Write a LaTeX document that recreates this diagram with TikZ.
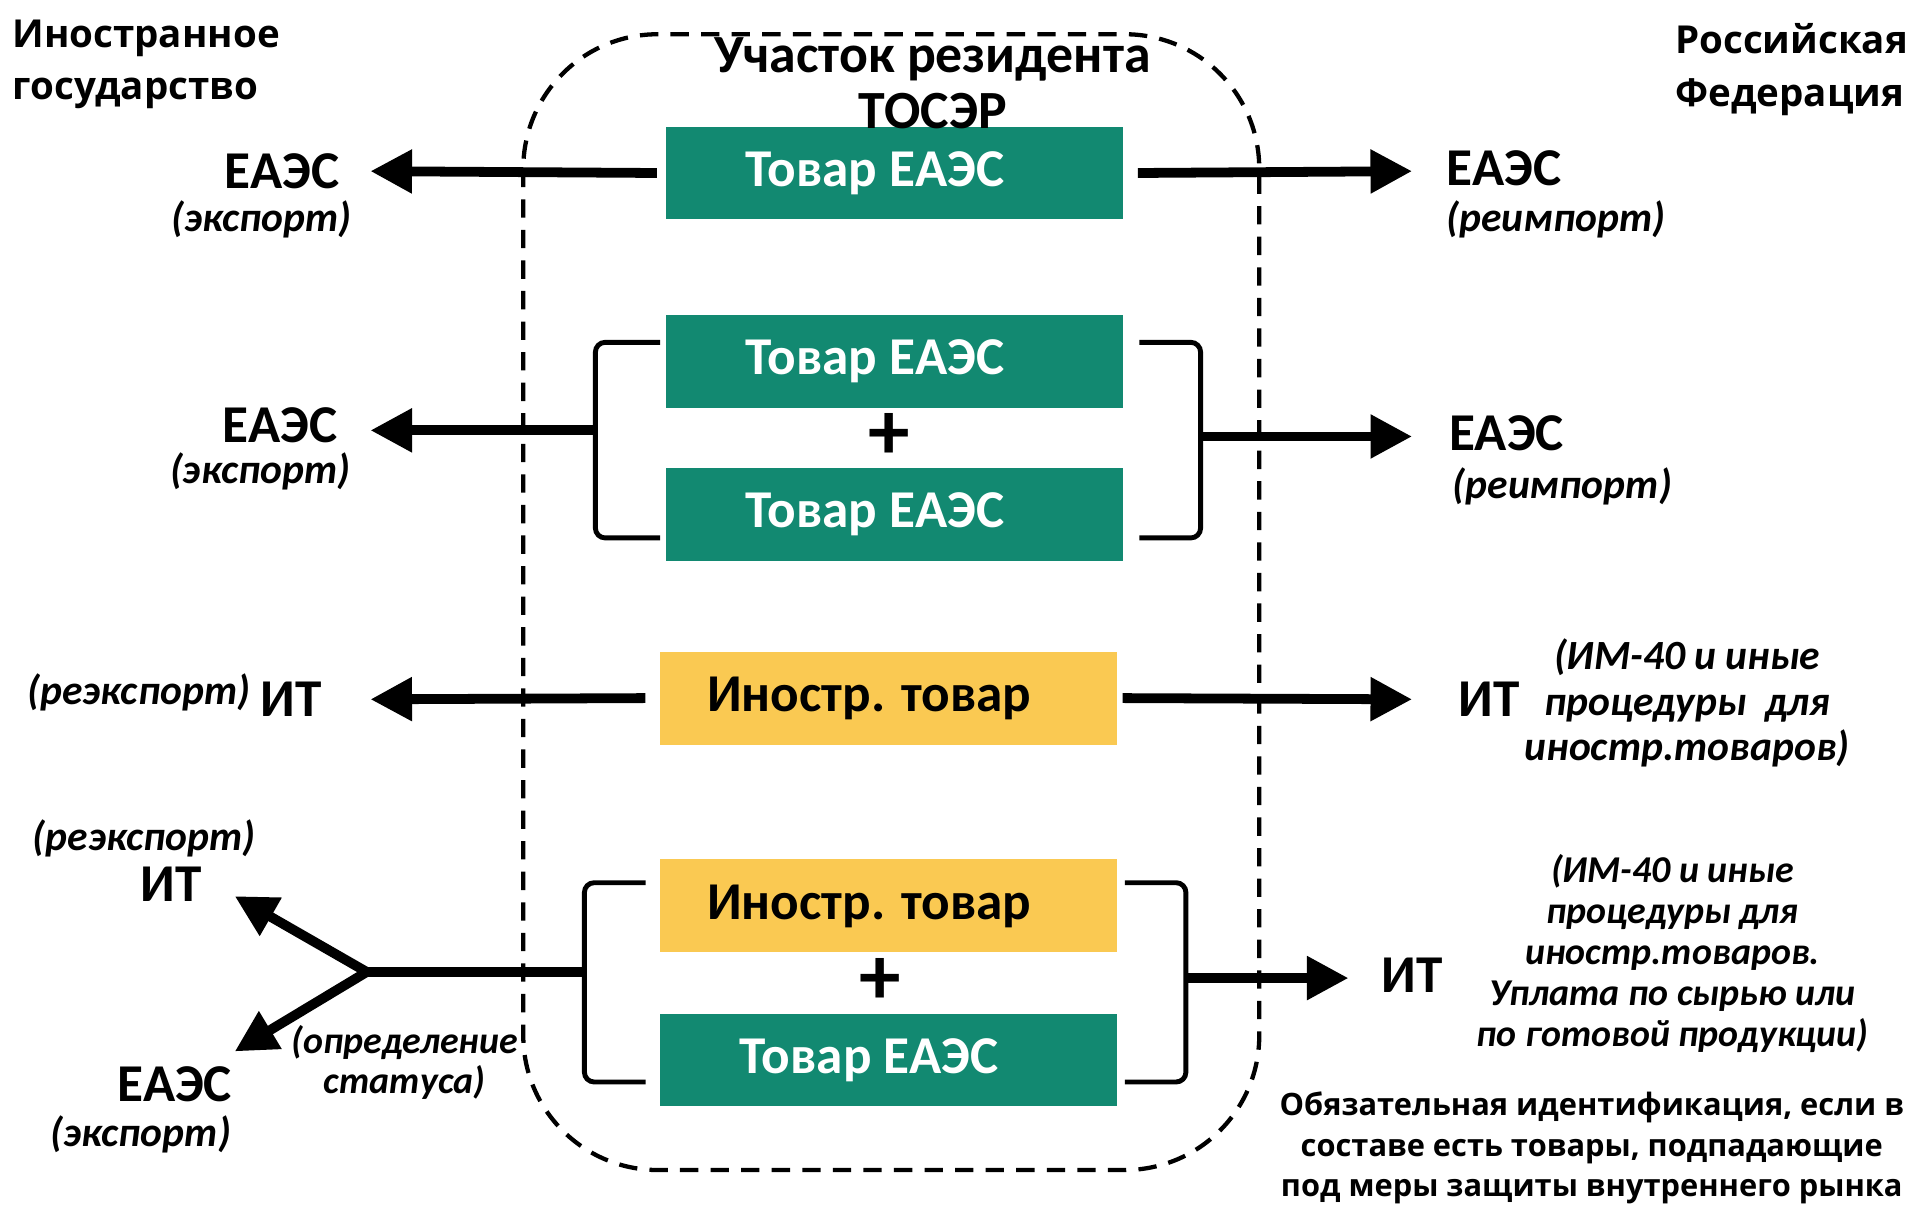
\documentclass[tikz,border=0pt]{standalone}
\usepackage{fontspec}
\setmainfont{Carlito}
\newfontfamily\osans{Open Sans}
\usetikzlibrary{arrows.meta}
\definecolor{teal1}{RGB}{18,137,113}
\definecolor{gold1}{RGB}{250,201,82}
\newcommand{\boxtxt}[1]{#1\hspace*{32pt}}
\begin{document}
\begin{tikzpicture}[x=1pt,y=-1pt,
 box/.style={minimum width=374pt, minimum height=76pt, inner sep=0pt, font=\fontsize{43.5}{46}\selectfont\bfseries},
 gbox/.style={box, fill=teal1, text=white},
 ybox/.style={box, fill=gold1, text=black},
 arr/.style={line width=8pt, -{Triangle[length=34pt,width=34pt]}},
 thick8/.style={line width=8pt},
 brk/.style={line width=4pt, rounded corners=8pt},
 lbl/.style={font=\fontsize{43.5}{46}\selectfont\bfseries, inner sep=0pt},
 itl/.style={font=\fontsize{34}{36}\selectfont\bfseries\itshape, inner sep=0pt},
 itls/.style={font=\fontsize{31}{33.5}\selectfont\bfseries\itshape, inner sep=0pt, align=center},
 head/.style={font=\osans\fontsize{31.5}{43}\selectfont\bfseries, inner sep=0pt, align=left},
 plus/.style={font=\fontsize{68}{68}\selectfont\bfseries, inner sep=0pt},
]
\useasboundingbox (0,0) rectangle (1568,985);
\fill[white] (0,0) rectangle (1568,985);

% zone frame
\draw[line width=3.5pt, dash pattern=on 15pt off 10pt, rounded corners=110pt] (428,28) rectangle (1030,957);

% headers
\node[head, anchor=north west] (hl) at (10,16) {Иностранное\\государство};
\node[head, anchor=north west] (hr) at (1370,19) {Российская\\Федерация};

% row 1
\node[gbox] (g1) at (731.5,141.5) {\boxtxt{Товар ЕАЭС}};
\node[align=center, font=\fontsize{44}{46}\selectfont\bfseries, inner sep=0pt] (zone) at (763,68) {Участок резидента\\ТОСЭР};
\node[lbl, anchor=east] (l1) at (278,140) {ЕАЭС};
\node[itl, anchor=north east] (l1s) at (288,164) {(экспорт)};
\node[lbl, anchor=west] (r1) at (1183,138) {ЕАЭС};
\node[itl, anchor=north west] (r1s) at (1183,164) {(реимпорт)};
\coordinate (t1l) at (303,140);
\coordinate (t1r) at (1155,140);
\draw[arr] ([xshift=-7pt]g1.west) -- (t1l);
\draw[arr] ([xshift=12pt]g1.east) -- (t1r);

% row 2
\node[gbox] (g2a) at (731.5,295.5) {\boxtxt{Товар ЕАЭС}};
\node[gbox] (g2b) at (731.5,421) {\boxtxt{Товар ЕАЭС}};
\node[plus] (p2) at (727,357) {+};
\draw[brk] (540,280) -- (487,280) -- (487,440) -- (540,440);
\draw[brk] (932,280) -- (982,280) -- (982,440) -- (932,440);
\coordinate (b2l) at (487,352);
\coordinate (b2r) at (982,357);
\coordinate (t2l) at (303,352);
\coordinate (t2r) at (1155,357);
\draw[arr] (b2l) -- (t2l);
\draw[arr] (b2r) -- (t2r);
\node[lbl, anchor=east] (l2) at (276,348) {ЕАЭС};
\node[itl, anchor=north east] (l2s) at (287,370) {(экспорт)};
\node[lbl, anchor=west] (r2) at (1185,354) {ЕАЭС};
\node[itl, anchor=north west] (r2s) at (1188,382) {(реимпорт)};

% row 3
\node[ybox] (y3) at (727,571) {\boxtxt{Иностр. товар}};
\coordinate (t3l) at (303,572);
\coordinate (t3r) at (1155,572);
\draw[arr] ([xshift=-12pt]y3.west) -- (t3l);
\draw[arr] ([xshift=4pt]y3.east) -- (t3r);
\node[lbl, anchor=west] (l3) at (213,572) {ИТ};
\node[itl, anchor=east] (l3s) at (205,566) {(реэкспорт)};
\node[lbl, anchor=west] (r3) at (1193,572) {ИТ};
\node[itls, font=\fontsize{34}{37}\selectfont\bfseries\itshape] (r3s) at (1380,575) {(ИМ-40 и иные\\процедуры~~для\\иностр.товаров)};

% row 4
\node[ybox] (y4) at (727,741) {\boxtxt{Иностр. товар}};
\node[gbox] (g4) at (727,867) {\boxtxt{Товар ЕАЭС}};
\node[plus] (p4) at (720,803) {+};
\draw[brk] (528,722) -- (478,722) -- (478,885) -- (528,885);
\draw[brk] (920,722) -- (970,722) -- (970,885) -- (920,885);
\coordinate (b4l) at (478,795);
\coordinate (j4) at (300,795);
\coordinate (t4a) at (192,733);
\coordinate (t4b) at (192,860);
\coordinate (b4r) at (970,800);
\coordinate (t4r) at (1103,800);
\draw[thick8] (b4l) -- (j4);
\draw[line width=8pt, line join=miter, {Triangle[length=34pt,width=34pt]}-{Triangle[length=34pt,width=34pt]}] (t4a) -- (j4) -- (t4b);
\draw[arr] (b4r) -- (t4r);
\node[itl] (l4as) at (118,686) {(реэкспорт)};
\node[lbl] (l4a) at (140,723) {ИТ};
\node[lbl, anchor=east] (l4b) at (190,887) {ЕАЭС};
\node[itl] (l4bs) at (115,928) {(экспорт)};
\node[itls] (det) at (331,869) {(определение\\статуса)};
\node[lbl, anchor=west] (r4) at (1130,798) {ИТ};
\node[itls] (r4s) at (1368,780) {(ИМ-40 и иные\\процедуры для\\иностр.товаров.\\Уплата по сырью или\\по готовой продукции)};
\node[font=\osans\fontsize{25.2}{33}\selectfont\bfseries, align=center, inner sep=0pt] (note) at (1302,939) {Обязательная идентификация, если в\\составе есть товары, подпадающие\\под меры защиты внутреннего рынка};
\end{tikzpicture}
\end{document}
